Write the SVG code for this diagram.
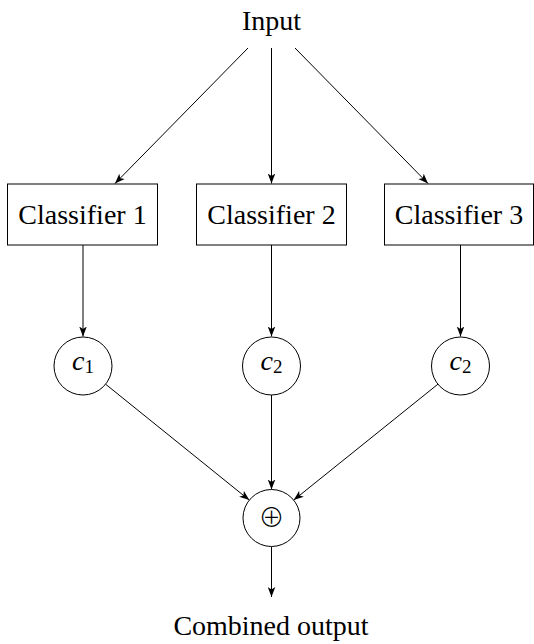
<svg xmlns="http://www.w3.org/2000/svg" width="534" height="644" viewBox="0 0 534 644">
<style>
.t{font-family:"Liberation Serif","Times New Roman",serif;font-size:28px;fill:#000}
.box{fill:#fff;stroke:#000;stroke-width:1}
.cir{fill:#fff;stroke:#000;stroke-width:1}
.e{stroke:#000;stroke-width:1;fill:none;marker-end:url(#ah)}
</style>
<defs>
<marker id="ah" viewBox="-10 -4 10 8" refX="0" refY="0" markerWidth="10" markerHeight="8" markerUnits="userSpaceOnUse" orient="auto">
<path d="M0,0 L-10,-3.8 L-7.5,0 L-10,3.8 Z" fill="#000"/>
</marker>
</defs>
<g id="connectors">
<line class="e" x1="248" y1="48" x2="115" y2="183.5"/>
<line class="e" x1="271.5" y1="48" x2="271.5" y2="183.5"/>
<line class="e" x1="295" y1="48" x2="428" y2="183.5"/>
<line class="e" x1="83" y1="245" x2="83" y2="336.5"/>
<line class="e" x1="271.5" y1="245" x2="271.5" y2="336.5"/>
<line class="e" x1="460.5" y1="245" x2="460.5" y2="336.5"/>
<line class="e" x1="105.6" y1="384.2" x2="249.3" y2="500.1"/>
<line class="e" x1="271.5" y1="395" x2="271.5" y2="489.5"/>
<line class="e" x1="437.9" y1="384.2" x2="293.7" y2="500.1"/>
<line class="e" x1="271.5" y1="546.5" x2="271.5" y2="597"/>
</g>
<g id="input"><text class="t" x="271.5" y="30" text-anchor="middle">Input</text></g>
<g id="classifier1"><rect class="box" x="7.5" y="184" width="150" height="61"/><text class="t" x="82.5" y="224" text-anchor="middle">Classifier 1</text></g>
<g id="classifier2"><rect class="box" x="196.5" y="184" width="150" height="61"/><text class="t" x="271.5" y="224" text-anchor="middle">Classifier 2</text></g>
<g id="classifier3"><rect class="box" x="384.5" y="184" width="149" height="61"/><text class="t" x="459" y="224" text-anchor="middle">Classifier 3</text></g>
<g id="c1"><circle class="cir" cx="83" cy="366" r="29"/><text class="t" x="83" y="370" text-anchor="middle"><tspan font-style="italic">c</tspan><tspan font-size="19" dy="3">1</tspan></text></g>
<g id="c2"><circle class="cir" cx="271.5" cy="366" r="29"/><text class="t" x="271.5" y="370" text-anchor="middle"><tspan font-style="italic">c</tspan><tspan font-size="19" dy="3">2</tspan></text></g>
<g id="c3"><circle class="cir" cx="460.5" cy="366" r="29"/><text class="t" x="460.5" y="370" text-anchor="middle"><tspan font-style="italic">c</tspan><tspan font-size="19" dy="3">2</tspan></text></g>
<g id="sum"><circle class="cir" cx="271.5" cy="518" r="28.5"/><text x="271.5" y="527" text-anchor="middle" font-family="Noto Sans CJK SC, DejaVu Sans, sans-serif" font-weight="300" font-size="26" fill="#000">⊕</text></g>
<g id="output"><text class="t" x="271" y="635" text-anchor="middle">Combined output</text></g>
</svg>
